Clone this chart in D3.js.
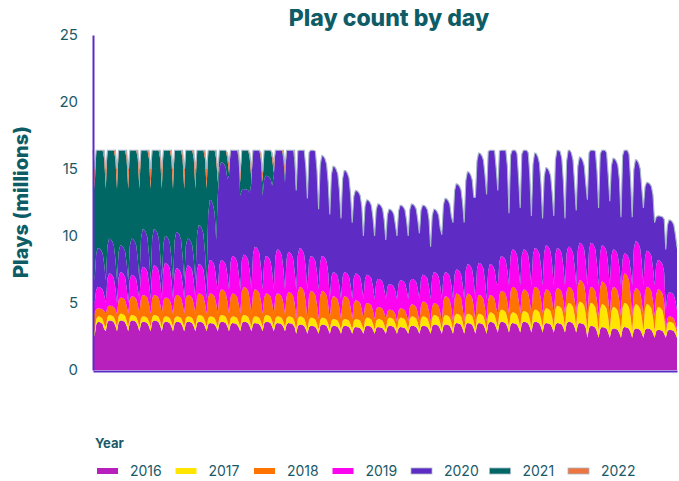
<!DOCTYPE html>
<html><head><meta charset="utf-8">
<script src="https://cdn.jsdelivr.net/npm/d3@7"></script>
<style>
html,body{margin:0;padding:0;background:#fff;}
svg{display:block;font-family:Inter,"Noto Sans",sans-serif;}
</style></head><body>
<svg id="chart" width="679" height="481"></svg>
<script>
// ---------- data (weekly peak / weekend-low values per year, millions) ----------
const years = ["2016","2017","2018","2019","2020","2021","2022"];
const yTicks = [0, 5, 10, 15, 20, 25];
const dayCount = 366;
// relative shape of a week, low day first
const weekdayProfile = [0, 0.82, 1, 0.99, 0.94, 0.84, 0.5];
const plotCap = 16.4;

const hi2016 = [3.6,3.7,3.7,3.7,3.6,3.7,3.6,3.6,3.6, 3.6,3.5,3.6,3.5,3.6,3.5,3.6,3.5,3.5, 3.4,3.3,3.4,3.3,3.3,3.2,3.3,3.2,3.3, 3.2,3.3,3.3,3.4,3.4,3.5,3.5,3.5,3.6, 3.6,3.5,3.6,3.6,3.5,3.5,3.6,3.5,3.3, 3.2,3.1,3.2,3.1,3.1,3.0,3.0,3.0];
const lo2016 = [2.5, 2.9,2.9,2.9,2.9,2.9,2.9,2.9,2.9,2.9,2.9,2.9,2.9,2.9,2.9,2.9,2.9,2.9, 2.7,2.7,2.7,2.7,2.7,2.7,2.7,2.7,2.7,2.7,2.7,2.7,2.7,2.7,2.7,2.7,2.7,2.7, 2.8,2.8,2.8,2.8,2.8,2.8,2.8,2.8, 2.4,2.4,2.4,2.4,2.4,2.4,2.4,2.4,2.4];

const hi2017 = [0.4,0.4,0.5,0.4,0.4,0.4,0.4,0.4,0.4, 0.5,0.5,0.5,0.5,0.5,0.5,0.5,0.5,0.5, 0.6,0.6,0.5,0.5,0.5,0.6,0.6,0.6,0.6, 0.7,0.7,0.7,0.7,0.7,0.7,0.7,0.7,0.7, 0.9,0.8,0.8,0.9,1.1,1.3,1.4,1.6,1.7, 1.7,1.6,1.8,1.8,1.8,1.7,0.6,0.4];
const lo2017 = [0.3,0.3,0.3,0.3,0.3,0.3,0.3,0.3,0.3,0.3,0.3,0.3,0.3,0.3,0.3,0.3,0.3,0.3, 0.3,0.3,0.3,0.3,0.3,0.3,0.3,0.3,0.3,0.3,0.3,0.3,0.3,0.3,0.3,0.3,0.3,0.3, 0.4,0.4,0.4,0.4,0.4,0.4,0.4,0.4, 0.5,0.5,0.5,0.5,0.5,0.5,0.5, 0.3,0.3];

const hi2018 = [0.6,0.7,1.2,1.4,1.6,1.5,1.4,1.6,1.6, 1.6,1.7,1.9,1.7,2.1,2.0,1.6,1.7,1.8, 2.2,2.0,2.0,1.7,1.7,1.4,1.1,0.9,0.6, 0.7,0.9,1.1,0.9,1.4,1.5,1.5,1.4,1.3, 1.4,1.9,1.6,1.7,1.4,1.3,1.2,1.6,1.2, 1.7,1.5,2.2,1.2,1.3,1.3,0.4,0.3];
const lo2018 = [1.4, 1.0,1.0,1.0,1.0,1.0,1.0,1.0,1.0,1.0,1.0,1.0,1.0,1.0,1.0,1.0,1.0,1.0, 0.8,0.8,0.8,0.8,0.8,0.8,0.8,0.8,0.8, 0.6,0.6,0.6,0.6,0.6,0.6,0.6,0.6,0.6, 1.0,1.0,1.0,1.0,1.0,1.0,1.0,1.0, 1.1,1.1,1.1,1.1,1.1,1.1,1.1, 0.3,0.3];

const hi2019 = [1.6,2.4,1.9,1.6,2.1,2.2,2.6,2.0,2.2, 2.2,2.5,2.2,2.8,2.4,3.2,2.8,3.3,3.0, 2.9,2.6,2.6,1.8,1.8,2.0,2.1,2.1,1.9, 2.1,1.9,2.0,2.3,1.8,1.8,2.2,2.4,2.3, 2.6,2.8,3.0,2.9,3.3,3.0,3.0,2.8,3.3, 2.7,2.8,1.5,3.5,2.7,2.2,1.8,1.3];
const lo2019 = [0.8,0.8,0.8,0.8, 1.1,1.1,1.1,1.1,1.1,1.1,1.1, 1.8,1.8,1.8,1.8,1.8,1.8,1.8, 2.2,2.2,2.2, 1.5,1.5,1.5,1.5,1.5,1.5, 1.7,1.7,1.7,1.7,1.7,1.7,1.7,1.7,1.7, 2.1,2.1,2.1,2.1,2.1,2.1,2.1,2.1, 2.3,2.3,2.3,2.3,2.3,2.3,2.3, 1.5,1.5];

const hi2020 = [2.9,2.6,2.0,2.7,2.8,2.7,2.0,2.7,2.0, 2.9,4.5,7.3,8.6,4.9,7.8,6.0,8.0,8.2, 7.9,8.5,7.5,7.9,7.6,6.2,5.6,5.6,5.6, 5.6,5.6,5.2,4.7,5.5,6.4,6.9,8.2,9.1, 8.5,8.0,8.0,7.1,5.8,7.5,7.3,6.4,7.5, 7.7,6.8,8.3,6.1,5.1,3.3,5.4,6.0];
const lo2020 = [1.7,1.7,1.7,1.7, 1.4,1.4,1.4,1.4,1.4,1.4,1.4, 7.0,8.5,7.0,8.0,7.0,8.5,8.0, 7.4,6.8,6.0, 6.3,6.0,5.7,4.7,4.7,4.4, 4.7,4.7,4.9,3.9,4.8,5.7,5.7,7.6,7.8, 7.1,5.4,5.8,5.2,5.0,5.2,5.0,5.6, 6.4,5.8,6.3,5.1,5.1,5.8,4.7, 4.5,4.5];

const hi2021 = [8.9,8.2,8.7,8.2,7.5,7.5,8.0,7.7,8.2,7.2,5.3, 2.0,0.3,4.0,0.3,3.0,0.3,0.5, 0,0,0,0,0,0,0,0,0,0,0,0,0,0,0,0,0,0,0,0,0,0,0,0,0,0,0,0,0,0,0,0,0,0, 0.3,0.3,0.2];
const lo2021 = [6.8,6.8,6.8,6.8,6.8,6.8,6.8,6.8,6.8,6.8,6.8, 1.0,0.2,1.0,0.2,1.0,0.2,0.5, 0,0,0,0,0,0,0,0,0,0,0,0,0,0,0,0,0,0,0,0,0,0,0,0,0,0,0,0,0,0,0,0,0,0, 0.2,0.2,0.2];

const hi2022 = [0.1,0.1,0.1,0.1,0.1,0.1,0.1,0.1,0.1,0.1,0.1,0.1,0.1,0.1,0.1,0.1,0.1,0.1, 0,0,0,0,0,0,0,0,0,0,0,0,0,0,0,0,0,0,0,0,0,0,0,0,0,0,0,0,0,0,0,0,0,0,0,0,0];
const lo2022 = [1.5,1.5,1.5,1.5,1.5,1.5,1.5,1.5,1.5,1.5,1.5, 0.8,0.8,0.8,0.8,0.8,0.8,0.8, 0,0,0,0,0,0,0,0,0,0,0,0,0,0,0,0,0,0,0,0,0,0,0,0,0,0,0,0,0,0,0,0,0,0,0,0,0];

// ---------- styling ----------
const yearColors = ["#b820be","#ffe500","#ff7300","#fb05f0","#5e2cc5","#006764","#ee7440"];
const textColor = "#1a5a68";
const titleColor = "#0e5d66";

const hiByYear = [hi2016,hi2017,hi2018,hi2019,hi2020,hi2021,hi2022];
const loByYear = [lo2016,lo2017,lo2018,lo2019,lo2020,lo2021,lo2022];

const rows = d3.range(dayCount).map(d => {
  const k = Math.max(0, Math.floor((d - 1) / 7));
  const p = (((d - 1) % 7) + 7) % 7;
  const row = { day: d };
  years.forEach((yr, i) => {
    const hi = hiByYear[i][k], lo = loByYear[i][k];
    row[yr] = lo + (hi - lo) * weekdayProfile[p];
  });
  return row;
});

const svg = d3.select("#chart");
const x = d3.scaleLinear().domain([0, dayCount - 1]).range([93, 677]);
const y = d3.scaleLinear().domain([0, 25]).range([370, 35]);
const color = d3.scaleOrdinal().domain(years).range(yearColors);

const stacked = d3.stack().keys(years)(rows);
const cap = v => Math.min(v, plotCap);

const area = d3.area()
  .x(d => x(d.data.day))
  .y0(d => y(cap(d[0])))
  .y1(d => y(cap(d[1])));

svg.append("g").selectAll("path").data(stacked).join("path")
  .attr("d", area)
  .attr("fill", s => color(s.key));

// outline along the top of the stack
const topLine = d3.line().x(d => x(d.data.day)).y(d => y(cap(d[1])));
svg.append("path").datum(stacked[stacked.length - 1])
  .attr("d", topLine).attr("fill", "none")
  .attr("stroke", "#a8b8c8").attr("stroke-width", 1.1);

// axes
const yAxis = d3.axisLeft(y).tickValues(yTicks).tickSize(0).tickSizeOuter(0).tickPadding(15);
svg.append("g").attr("transform", "translate(93,0)").call(yAxis)
  .call(g => g.select(".domain").attr("stroke", "#5e2cc5").attr("stroke-width", 2))
  .call(g => g.selectAll("text").attr("fill", textColor).attr("font-size", 15)
    .attr("font-family", "Inter, 'Noto Sans', sans-serif"));

const xAxis = d3.axisBottom(x).tickValues([]).tickSizeOuter(0);
svg.append("g").attr("transform", "translate(0,371)").call(xAxis)
  .call(g => g.select(".domain").attr("stroke", "#5e2cc5").attr("stroke-width", 2));

// titles
svg.append("text").attr("x", 389).attr("y", 26).attr("text-anchor", "middle")
  .attr("font-size", 23).attr("font-weight", 800).attr("fill", titleColor)
  .text("Play count by day");

svg.append("text").attr("transform", "translate(28,202) rotate(-90)")
  .attr("text-anchor", "middle").attr("font-size", 20).attr("font-weight", 800)
  .attr("fill", titleColor).text("Plays (millions)");

// legend
svg.append("text").attr("x", 95).attr("y", 448).attr("font-size", 13)
  .attr("font-weight", 700).attr("fill", textColor).text("Year");

const legendX = d3.scalePoint().domain(years).range([97, 568]);
const items = svg.append("g").selectAll("g").data(years).join("g")
  .attr("transform", d => `translate(${legendX(d)},471)`);
items.append("rect").attr("x", 0).attr("y", -3).attr("width", 21).attr("height", 6)
  .attr("fill", d => color(d))
  .attr("stroke", (d, i) => i >= 4 ? "#a8b8c8" : "none").attr("stroke-width", 0.8);
items.append("text").attr("x", 33).attr("dy", "0.36em").attr("font-size", 14)
  .attr("fill", textColor).text(d => d);
</script>
</body></html>
